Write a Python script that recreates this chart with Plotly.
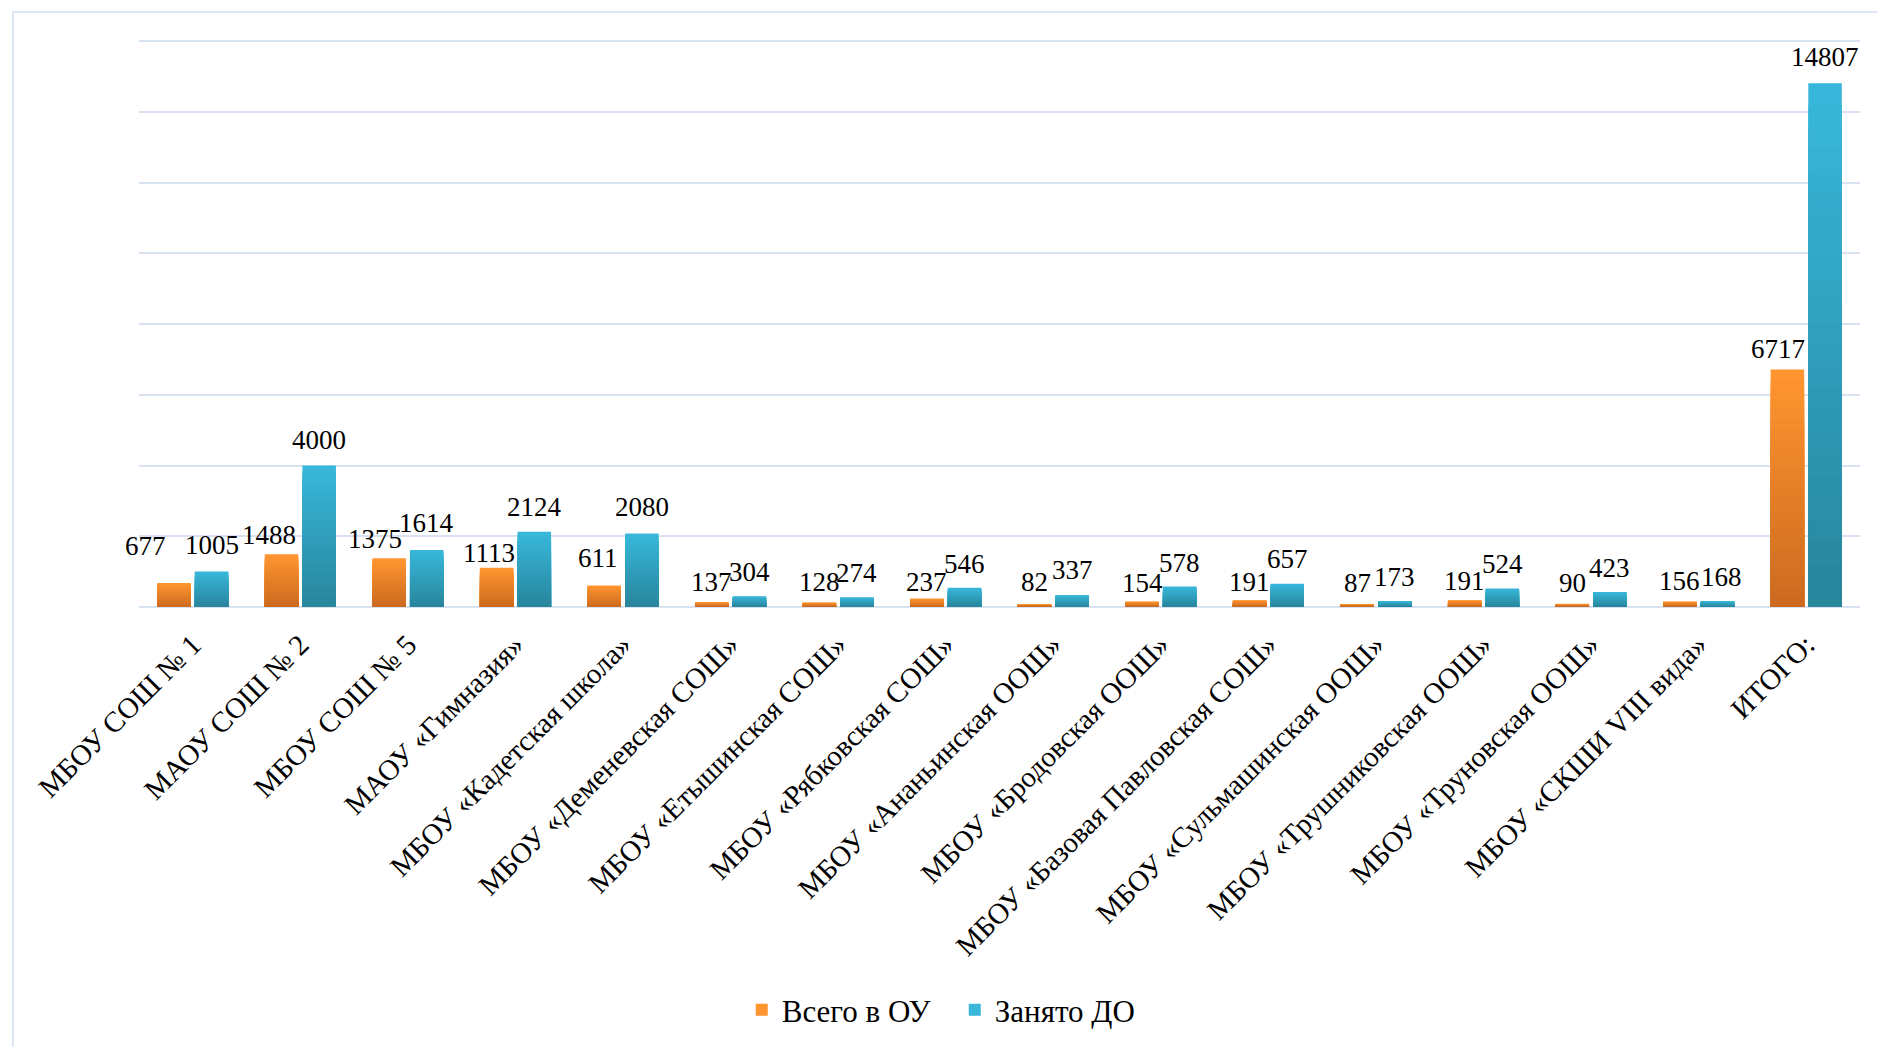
import plotly.graph_objects as go

categories = [
    "МБОУ СОШ № 1", "МАОУ СОШ № 2", "МБОУ СОШ № 5", "МАОУ «Гимназия»",
    "МБОУ «Кадетская школа»", "МБОУ «Деменевская СОШ»", "МБОУ «Етышинская СОШ»",
    "МБОУ «Рябковская СОШ»", "МБОУ «Ананьинская ООШ»", "МБОУ «Бродовская ООШ»",
    "МБОУ «Базовая Павловская СОШ»", "МБОУ «Сульмашинская ООШ»",
    "МБОУ «Трушниковская ООШ»", "МБОУ «Труновская ООШ»", "МБОУ «СКШИ VIII вида»",
    "ИТОГО:",
]
vsego_ou = [677, 1488, 1375, 1113, 611, 137, 128, 237, 82, 154, 191, 87, 191, 90, 156, 6717]
zanyato_do = [1005, 4000, 1614, 2124, 2080, 304, 274, 546, 337, 578, 657, 173, 524, 423, 168, 14807]
series_names = ["Всего в ОУ", "Занято ДО"]

# data-label nudges (pixels) as placed in the original chart
orange_label_dx = [-28, -13, -14, -8, -6, 0, 0, 0, 0, 0, 0, 0, 0, 0, 0, -9]
orange_label_dy = [37, 19, 19, 15, 27, 20, 20, 17, 22, 19, 18, 21, 19, 21, 20, 20]
blue_label_dx = [0, 0, 0, 0, 0, 0, 0, 0, 0, 0, 0, 0, 0, 0, 4, 0]
blue_label_dy = [26, 26, 27, 25, 26, 24, 24, 24, 25, 24, 25, 24, 24, 24, 24, 26]

FONT = "Liberation Serif"
N_LAYERS = 24
W, H = 1885, 1047
M = dict(l=131, r=33, t=32, b=448)
BARGAP, GROUPGAP = 0.30, 0.11


def hex2rgb(h):
    h = h.lstrip("#")
    return tuple(int(h[i:i + 2], 16) for i in (0, 2, 4))


def mix(c1, c2, t):
    a, b = hex2rgb(c1), hex2rgb(c2)
    return "rgb(%d,%d,%d)" % tuple(round(a[i] + (b[i] - a[i]) * t) for i in range(3))


fig = go.Figure()
styles = [
    (series_names[0], vsego_ou, "#FF9530", "#CC6B20", "g1"),
    (series_names[1], zanyato_do, "#38B7DA", "#28869D", "g2"),
]
for name, vals, top, bottom, grp in styles:
    for k in range(N_LAYERS):
        frac = 1 - k / N_LAYERS
        first = k == 0
        fig.add_trace(go.Bar(
            x=categories,
            y=[v * frac for v in vals],
            name=name,
            offsetgroup=grp,
            legendgroup=grp,
            showlegend=first,
            marker=dict(color=mix(top, bottom, k / (N_LAYERS - 1)), line=dict(width=0)),
            hoverinfo="x+y" if first else "skip",
        ))

# data labels
cat_w = (W - M["l"] - M["r"]) / len(categories)
slot = (1 - BARGAP) * cat_w / 2
annotations = []
for vals, dxs, dys, side in [
    (vsego_ou, orange_label_dx, orange_label_dy, -1),
    (zanyato_do, blue_label_dx, blue_label_dy, 1),
]:
    for cat, v, dx, dy in zip(categories, vals, dxs, dys):
        annotations.append(dict(
            x=cat, y=v, xref="x", yref="y", text=str(v), showarrow=False,
            xanchor="center", yanchor="middle",
            xshift=side * slot / 2 + dx, yshift=dy,
            font=dict(family=FONT, size=27, color="black"),
        ))

fig.update_layout(
    width=W, height=H,
    paper_bgcolor="white", plot_bgcolor="white",
    barmode="group", bargap=BARGAP, bargroupgap=GROUPGAP,
    margin=M,
    font=dict(family=FONT, color="black"),
    annotations=annotations,
    legend=dict(
        orientation="h", x=0.474, xanchor="center", y=-0.711, yanchor="middle",
        font=dict(family=FONT, size=31, color="black"),
        traceorder="normal", entrywidth=168, entrywidthmode="pixels",
    ),
    xaxis=dict(
        range=[-0.5, len(categories) - 0.5], autorange=False,
        tickangle=-45, tickfont=dict(family=FONT, size=29, color="black"),
        showline=False, showgrid=False, ticks="", automargin=False,
        ticklabelstandoff=14,
    ),
    yaxis=dict(
        range=[0, 16030], autorange=False,
        tickvals=[2000, 4000, 6000, 8000, 10000, 12000, 14000, 16000],
        showticklabels=False,
        showgrid=True, gridcolor="#D9E2F1", gridwidth=2,
        zeroline=True, zerolinecolor="#D9E2F1", zerolinewidth=2,
        showline=False, automargin=False, fixedrange=True,
    ),
    shapes=[dict(
        type="rect", xref="paper", yref="paper",
        x0=-0.0732, x1=1.03, y0=-0.85, y1=1.0494,
        line=dict(color="#DCE5F3", width=2), fillcolor="rgba(0,0,0,0)", layer="below",
    )],
)

fig.write_html("out.html")
